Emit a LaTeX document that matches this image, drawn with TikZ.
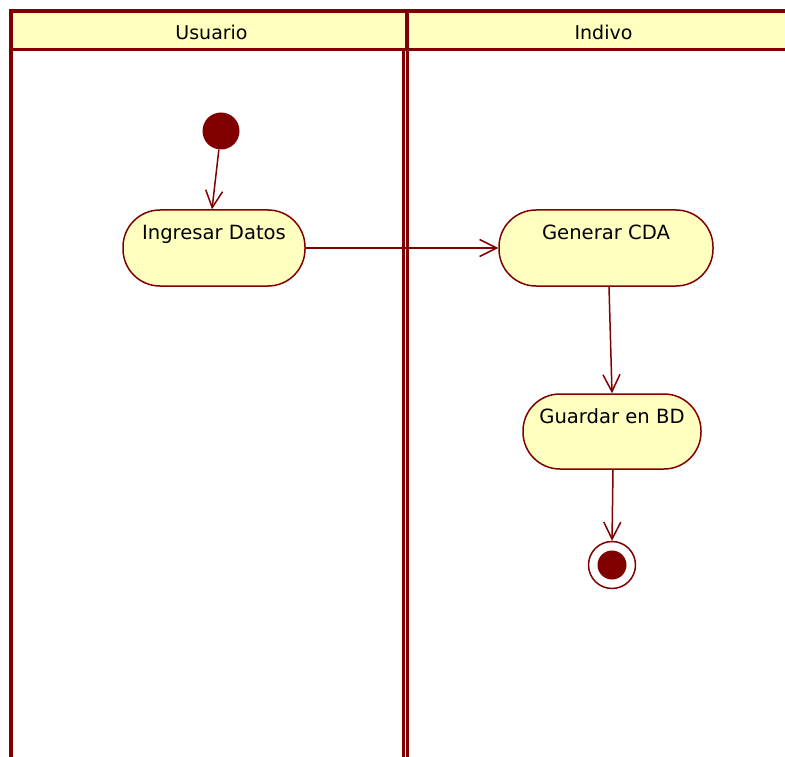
\documentclass[tikz,border=0pt]{standalone}
\usepackage{fontspec}
\setmainfont{DejaVu Sans}
\usetikzlibrary{arrows.meta}
\definecolor{dred}{RGB}{128,0,0}
\definecolor{pyel}{RGB}{255,255,192}
\tikzset{
  lane/.style={draw=dred, line width=3.5pt},
  lanehead/.style={inner sep=0pt, font=\fontsize{19}{22}\selectfont},
  action/.style={draw=dred, fill=pyel, line width=1.5pt, rectangle, rounded corners=37pt,
    inner xsep=0pt, inner ysep=0pt, text height=30pt, text depth=46pt,
    font=\fontsize{19.6}{22}\selectfont},
  initnode/.style={circle, fill=dred, inner sep=0pt, minimum size=37pt},
  finalnode/.style={circle, draw=dred, line width=1.5pt, fill=white, inner sep=0pt, minimum size=47pt,
    path picture={\fill[dred] (path picture bounding box.center) circle (14.5pt);}},
  flow/.style={draw=dred, line width=1.5pt, -{Straight Barb[length=17pt,width=17pt]}},
}
\begin{document}
\begin{tikzpicture}[x=1pt,y=-1pt]
\useasboundingbox (0,0) rectangle (785,757);
% swimlane frame
\fill[pyel] (11,11) rectangle (800,49.5);
\draw[lane] (11,11) -- (800,11);
\draw[lane] (11,49.5) -- (800,49.5);
\draw[lane] (11,9.25) -- (11,770);
\draw[lane] (407,11) -- (407,49.5);
\draw[draw=dred, line width=3pt] (403.5,49.5) -- (403.5,770);
\draw[draw=dred, line width=3pt] (407.5,49.5) -- (407.5,770);
\node[lanehead] (h1) at (211.5,32) {Usuario};
\node[lanehead] (h2) at (603.5,32) {Indivo};
% nodes
\node[initnode] (init) at (221,131) {};
\node[action, minimum width=182pt] (ing) at (214,248) {Ingresar Datos};
\node[action, minimum width=214pt] (gen) at (606,248) {Generar CDA};
\node[action, minimum width=178pt, text height=29pt, text depth=46pt] (gua) at (612,431.5) {Guardar en BD};
\node[finalnode] (fin) at (612,565) {};
% flows
\draw[flow] (init) -- ([xshift=-2pt]ing.north);
\draw[flow] (ing.east) -- (gen.west);
\draw[flow] ([xshift=3pt]gen.south) -- (gua.north);
\draw[flow] ([xshift=1pt]gua.south) -- (fin.north);
\end{tikzpicture}
\end{document}
